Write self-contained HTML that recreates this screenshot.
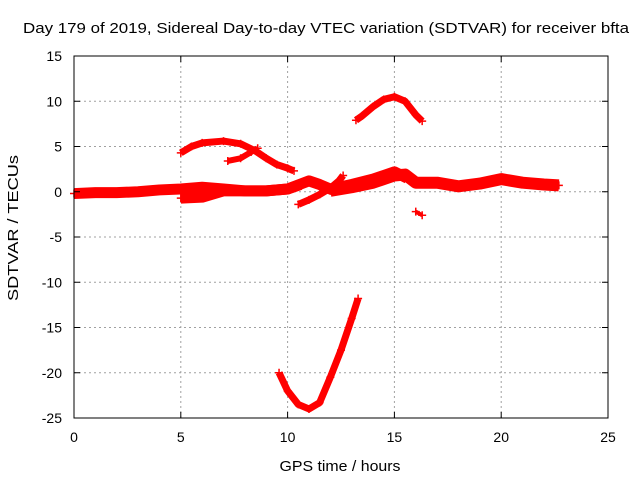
<!DOCTYPE html>
<html><head><meta charset="utf-8"><style>
body{margin:0;background:#fff;}
svg{display:block;font-family:"Liberation Sans",sans-serif;}
</style></head><body>
<svg id="c" width="640" height="480">
<text x="326" y="33" font-size="15" text-anchor="middle" textLength="606" lengthAdjust="spacingAndGlyphs">Day 179 of 2019, Sidereal Day-to-day VTEC variation (SDTVAR) for receiver bfta</text>
<text x="340" y="471" font-size="15" text-anchor="middle" textLength="121" lengthAdjust="spacingAndGlyphs">GPS time / hours</text>
<text transform="translate(18,228) rotate(-90)" font-size="15" text-anchor="middle" textLength="146" lengthAdjust="spacingAndGlyphs">SDTVAR / TECUs</text>
<g id="grid"></g><g id="series"></g><g id="axes"></g>
</svg>
<script>
const xTicks=[0,5,10,15,20,25];
const yTicks=[15,10,5,0,-5,-10,-15,-20,-25];
const trackBase=[[0,-0.2],[1,-0.1],[2,-0.1],[3,0],[4,0.2],[5,0.3],[6,0.5],[7,0.3],[8,0.1],[9,0.1],[10,0.3],[10.6,0.8]];
const trackLow=[[5,-0.7],[6,-0.6],[7,0.1],[8,0.1],[9,0.1],[10,0.3],[11,1.2],[11.5,0.8],[12,0.3],[13,0.8],[14,1.4],[15,2.2],[15.6,1.5]];
const trackArc=[[5,4.3],[5.5,5],[6,5.4],[7,5.6],[7.8,5.3],[8.5,4.5],[9,3.7],[9.5,3],[10,2.6],[10.3,2.3]];
const trackBranch=[[7.2,3.4],[7.8,3.7],[8.3,4.4],[8.6,4.8]];
const trackRise=[[10.5,-1.4],[11,-0.9],[11.5,-0.3],[12,0.4],[12.4,1.2],[12.6,1.8]];
const trackTop=[[13.2,7.9],[13.5,8.4],[14,9.4],[14.5,10.2],[15,10.5],[15.5,10],[16,8.5],[16.3,7.8]];
const trackV=[[9.6,-20],[10,-22],[10.5,-23.5],[11,-24],[11.5,-23.3],[12,-20.5],[12.5,-17.5],[13,-14],[13.3,-11.8]];
const trackRight=[[12,0.1],[13,0.5],[14,1],[15,1.8],[15.5,1.9],[16,1],[17,1],[18,0.6],[19,0.9],[20,1.4],[21,1],[22,0.8],[22.7,0.7]];
const trackSmall=[[16,-2.2],[16.3,-2.6]];
const tracks=[trackBase,trackLow,trackArc,trackBranch,trackRise,trackTop,trackV,trackRight,trackSmall];
const widths=[11,11,7,6,7,7,7,12,4];
const X0=74,X1=608,Y0=56,Y1=418;
const sx=v=>X0+(v-0)/25*(X1-X0);
const sy=v=>Y0+(15-v)/40*(Y1-Y0);
const NS='http://www.w3.org/2000/svg';
const mk=(t,a,p)=>{const e=document.createElementNS(NS,t);for(const k in a)e.setAttribute(k,a[k]);p.appendChild(e);return e;};
const grid=document.getElementById('grid'),axes=document.getElementById('axes'),ser=document.getElementById('series');
xTicks.forEach(t=>{
 if(t>0&&t<25){const g=mk('line',{x1:sx(t),x2:sx(t),y1:Y0,y2:Y1,stroke:'#a0a0a0','stroke-dasharray':'2,3'},grid);
 }
 const l=mk('text',{x:sx(t),y:Y1+24,'font-size':14,'text-anchor':'middle'},axes);l.textContent=t;
 
 mk('line',{x1:sx(t),x2:sx(t),y1:Y1,y2:Y1-6,stroke:'#000'},axes);mk('line',{x1:sx(t),x2:sx(t),y1:Y0,y2:Y0+6,stroke:'#000'},axes);
});
yTicks.forEach(t=>{
 if(t>-25&&t<15){const g=mk('line',{x1:X0,x2:X1,y1:sy(t),y2:sy(t),stroke:'#a0a0a0','stroke-dasharray':'2,3'},grid);
 }
 const l=mk('text',{x:X0-12,y:sy(t)+5,'font-size':14,'text-anchor':'end'},axes);l.textContent=t;
 
 mk('line',{x1:X0,x2:X0+6,y1:sy(t),y2:sy(t),stroke:'#000'},axes);mk('line',{x1:X1,x2:X1-6,y1:sy(t),y2:sy(t),stroke:'#000'},axes);
});
const fr=mk('rect',{x:X0,y:Y0,width:X1-X0,height:Y1-Y0,fill:'none',stroke:'#000'},axes);

tracks.forEach((tr,i)=>{
 const p=mk('polyline',{points:tr.map(d=>sx(d[0])+','+sy(d[1])).join(' '),fill:'none',stroke:'#ff0000','stroke-width':widths[i],'stroke-linejoin':'round'},ser);
 
 tr.forEach(d=>{
  const c=mk('path',{d:`M${sx(d[0])-4},${sy(d[1])}h8M${sx(d[0])},${sy(d[1])-4}v8`,stroke:'#ff0000','stroke-width':1.5},ser);
  
 });
});
</script>
</body></html>
